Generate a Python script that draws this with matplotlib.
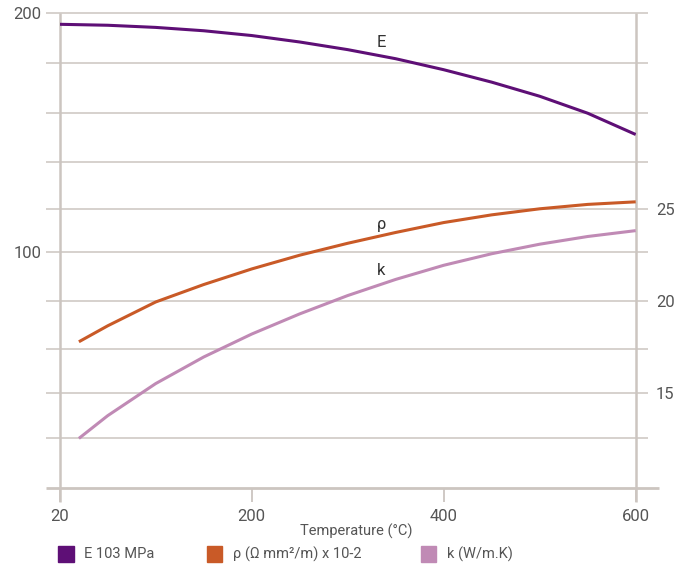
import numpy as np
import matplotlib.pyplot as plt
from matplotlib.patches import Rectangle

# temperature axis (the first tick is labelled with the room temperature)
xtick_pos = [0, 200, 400, 600]
xtick_lab = ["20", "200", "400", "600"]

# E, 10^3 MPa (left axis)
temp_E = [0, 50, 100, 150, 200, 250, 300, 350, 400, 450, 500, 550, 600]
E = [195.4, 195.0, 194.1, 192.7, 190.7, 188.0, 184.8, 181.0, 176.4, 171.2, 165.3, 158.2, 149.3]

# rho, Ohm mm2/m x 10-2 (right axis)
temp_rho = [20, 50, 100, 150, 200, 250, 300, 350, 400, 450, 500, 550, 600]
rho = [17.78, 18.65, 19.95, 20.9, 21.75, 22.5, 23.15, 23.74, 24.28, 24.7, 25.03, 25.27, 25.41]

# k, W/m.K (right axis)
temp_k = [20, 50, 100, 150, 200, 250, 300, 350, 400, 450, 500, 550, 600]
k = [12.51, 13.75, 15.5, 16.95, 18.2, 19.3, 20.3, 21.18, 21.95, 22.58, 23.1, 23.52, 23.84]

# horizontal grid levels in left-axis units
grid_levels = [200, 179.3, 158.4, 137.9, 118.0, 100, 79.6, 59.5, 41.3, 22.2]

c_E = "#5e0f76"
c_rho = "#c95a27"
c_k = "#c08ab5"
c_grid = "#ccc5c0"
c_txt = "#555555"

plt.rcParams['font.family'] = ['Roboto', 'DejaVu Sans']

W, H = 687, 567
fig = plt.figure(figsize=(W / 100, H / 100), dpi=100)
x0, x1, ytop, ybot = 59.7, 635.7, 13.3, 488.3
ax = fig.add_axes([x0 / W, 1 - ybot / H, (x1 - x0) / W, (ybot - ytop) / H])
ax2 = ax.twinx()

ax.set_xlim(0, 600)
ax.set_ylim(1.3, 200)
ax2.set_ylim(9.79, 35.69)

for a in (ax, ax2):
    for s in a.spines.values():
        s.set_visible(False)

# grid lines, running a little past both sides
pw = x1 - x0
ax.hlines(grid_levels, -14 / pw, 1 + 12 / pw, transform=ax.get_yaxis_transform(),
          color=c_grid, lw=1.1, clip_on=False, zorder=1)
# bottom axis line
ax.hlines([0], -14 / pw, 1 + 23.5 / pw, transform=ax.transAxes,
          color=c_grid, lw=2.0, clip_on=False, zorder=1)
# vertical side lines
ph = ybot - ytop
ax.vlines([0, 1], -14 / ph, 1, transform=ax.transAxes,
          color=c_grid, lw=1.8, clip_on=False, zorder=1)

ax.plot(temp_E, E, color=c_E, lw=2.2, zorder=3, solid_capstyle='butt')
ax2.plot(temp_rho, rho, color=c_rho, lw=2.2, zorder=3, solid_capstyle='butt')
ax2.plot(temp_k, k, color=c_k, lw=2.2, zorder=3, solid_capstyle='butt')

ax.text(335, 187.7, "E", fontsize=12, color="#333333", ha='center', va='center')
ax2.text(335, 24.2, "ρ", fontsize=12, color="#333333", ha='center', va='center')
ax2.text(335, 21.65, "k", fontsize=12, color="#333333", ha='center', va='center')

ax.set_xticks(xtick_pos)
ax.set_xticklabels(xtick_lab)
ax.tick_params(axis='x', length=10, width=1.3, color=c_grid, pad=5,
               labelsize=12, labelcolor=c_txt)
ax.set_yticks([100, 200])
ax.tick_params(axis='y', length=0, pad=13, labelsize=12, labelcolor=c_txt)
ax2.set_yticks([15, 20, 25])
ax2.tick_params(axis='y', length=0, pad=14.5, labelsize=12, labelcolor=c_txt)

fig.text(356.7 / W, 1 - 531.7 / H, "Temperature (°C)", fontsize=10.5,
         color=c_txt, ha='center', va='center')

# legend row
leg = [(58.3, c_E, "E 103 MPa"), (206.7, c_rho, "ρ (Ω mm²/m) x 10-2"),
       (420.5, c_k, "k (W/m.K)")]
for lx, col, lab in leg:
    fig.add_artist(Rectangle((lx / W, 1 - 561.7 / H), 15.7 / W, 15.7 / H,
                             transform=fig.transFigure, color=col))
    fig.text((lx + 26) / W, 1 - 554.5 / H, lab, fontsize=10.5, color=c_txt,
             ha='left', va='center')

fig.savefig("out.png", dpi=100)
